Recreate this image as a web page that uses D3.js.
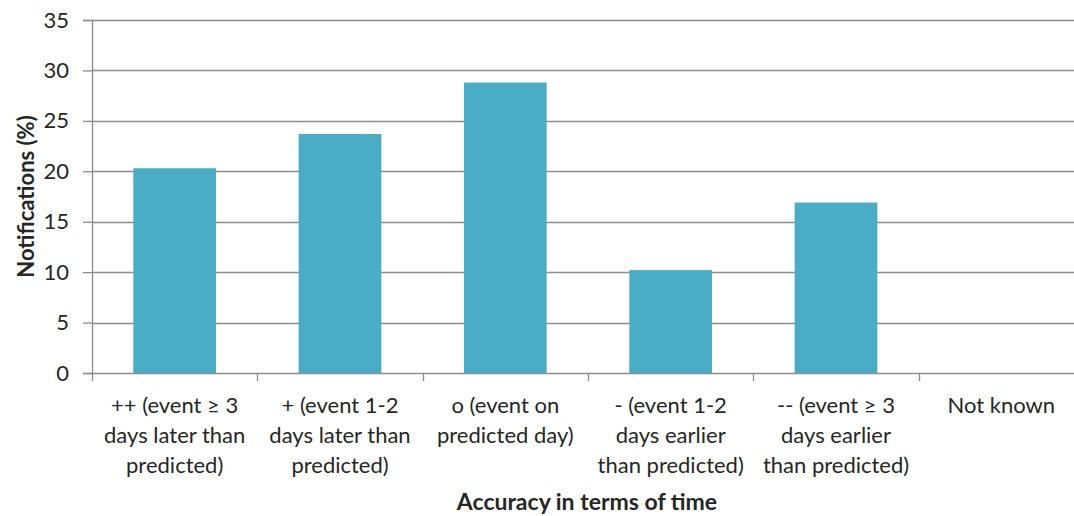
<!DOCTYPE html>
<html lang="en">
<head>
<meta charset="utf-8">
<title>Notifications by accuracy in terms of time</title>
<script src="https://d3js.org/d3.v7.min.js"></script>
<style>
  body { margin: 0; background: #fff; }
  svg { display: block; }
  text { font-family: Lato, "Open Sans", sans-serif; fill: #262626; }
</style>
</head>
<body>
<div id="chart"></div>
<script>
// data
var categories = [
  ["++ (event \u2265 3", "days later than", "predicted)"],
  ["+ (event 1-2", "days later than", "predicted)"],
  ["o (event on", "predicted day)"],
  ["- (event 1-2", "days earlier", "than predicted)"],
  ["-- (event \u2265 3", "days earlier", "than predicted)"],
  ["Not known"]
];
var values = [20.3, 23.7, 28.8, 10.2, 16.9, 0];
var yTicks = [0, 5, 10, 15, 20, 25, 30, 35];

var w = 1074, h = 516;
var margin = { left: 92, top: 20, right: -10, bottom: 143 };
var plotW = w - margin.left - margin.right;
var plotH = h - margin.top - margin.bottom;

var svg = d3.select("#chart").append("svg")
  .attr("width", w)
  .attr("height", h);

var g = svg.append("g")
  .attr("transform", "translate(" + margin.left + "," + margin.top + ")");

var x = d3.scaleBand()
  .domain(d3.range(values.length))
  .range([0, plotW])
  .paddingInner(0.5)
  .paddingOuter(0.25);

var y = d3.scaleLinear()
  .domain([0, 35])
  .range([plotH, 0]);

// gridlines
g.selectAll("line.grid")
  .data(yTicks)
  .enter()
  .append("line")
  .attr("class", "grid")
  .attr("x1", 0)
  .attr("x2", plotW)
  .attr("y1", function(d) { return Math.round(y(d)) + 0.5; })
  .attr("y2", function(d) { return Math.round(y(d)) + 0.5; })
  .attr("stroke", "#8c8c8c")
  .attr("stroke-width", 1.3);

// bars
g.selectAll("rect.bar")
  .data(values)
  .enter()
  .append("rect")
  .attr("class", "bar")
  .attr("x", function(d, i) { return x(i); })
  .attr("y", function(d) { return y(d); })
  .attr("width", x.bandwidth())
  .attr("height", function(d) { return plotH - y(d); })
  .attr("fill", "#4bacc6");

// y axis
var yAxis = d3.axisLeft(y)
  .tickValues(yTicks)
  .tickSize(9)
  .tickPadding(14);

var yG = g.append("g").call(yAxis);
yG.select(".domain").attr("stroke", "#8c8c8c").attr("stroke-width", 1.3);
yG.selectAll(".tick line").attr("stroke", "#8c8c8c").attr("stroke-width", 1.3);
yG.selectAll(".tick text")
  .attr("font-size", "22px")
  .attr("font-family", "Lato, 'Open Sans', sans-serif")
  .attr("fill", "#262626");

// x axis ticks on band edges
var edges = d3.range(values.length + 1).map(function(i) { return i * plotW / values.length; });
g.selectAll("line.xtick")
  .data(edges)
  .enter()
  .append("line")
  .attr("class", "xtick")
  .attr("x1", function(d) { return Math.round(d) + 0.5; })
  .attr("x2", function(d) { return Math.round(d) + 0.5; })
  .attr("y1", plotH)
  .attr("y2", plotH + 8)
  .attr("stroke", "#8c8c8c")
  .attr("stroke-width", 1.3);

// x category labels
var labels = g.selectAll("text.cat")
  .data(categories)
  .enter()
  .append("text")
  .attr("class", "cat")
  .attr("text-anchor", "middle")
  .attr("font-size", "22px")
  .attr("transform", function(d, i) {
    return "translate(" + (x(i) + x.bandwidth() / 2) + "," + (plotH + 40) + ")";
  });

labels.selectAll("tspan")
  .data(function(d) { return d; })
  .enter()
  .append("tspan")
  .attr("x", 0)
  .attr("y", function(d, i) { return i * 30; })
  .text(function(d) { return d; });

// axis titles
svg.append("text")
  .attr("text-anchor", "middle")
  .attr("font-size", "23px")
  .attr("font-weight", "bold")
  .attr("x", margin.left + plotW / 2 - 1)
  .attr("y", 510)
  .text("Accuracy in terms of time");

svg.append("text")
  .attr("text-anchor", "middle")
  .attr("font-size", "22px")
  .attr("font-weight", "bold")
  .attr("transform", "translate(34," + (margin.top + plotH / 2) + ") rotate(-90)")
  .text("Notifications (%)");
</script>
</body>
</html>
